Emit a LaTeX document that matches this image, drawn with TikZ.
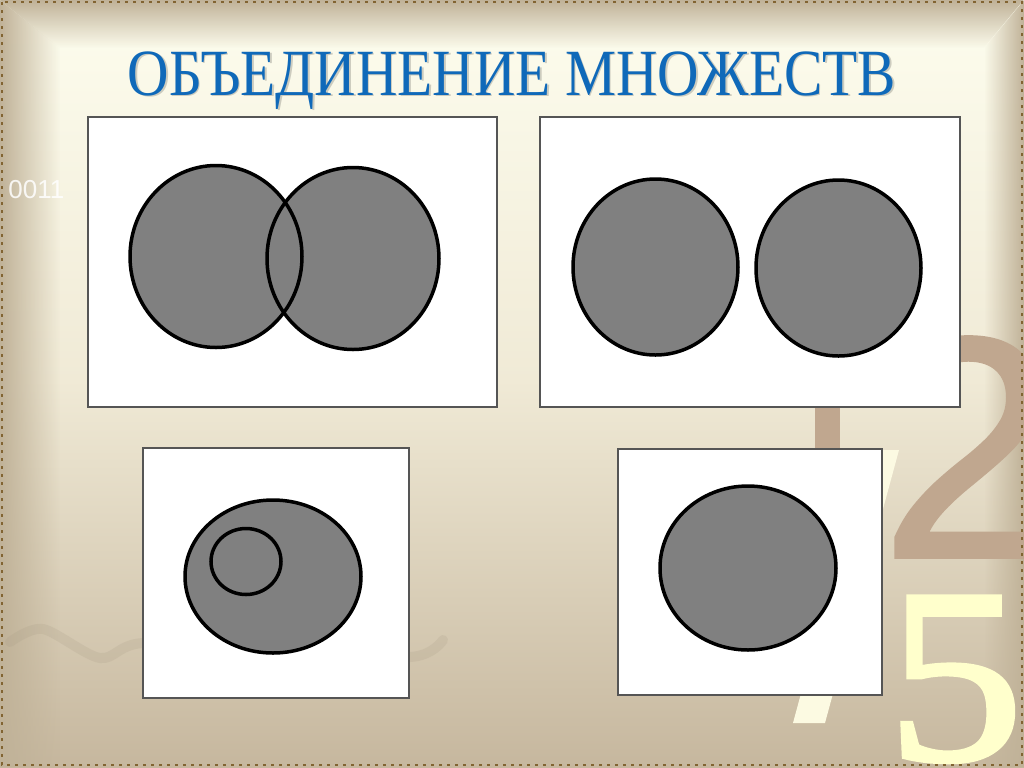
\documentclass[tikz,border=0pt]{standalone}
\usepackage{fontspec}
\usepackage{graphicx}
\setmainfont{Liberation Serif}
\newfontfamily\titlefont[FakeStretch=0.87]{Liberation Serif}
\newfontfamily\numfont{Liberation Sans}
\newfontfamily\numboldfont[FakeBold=1.2]{Liberation Sans}
\newfontfamily\fivefont[FakeBold=1.5]{Liberation Serif}
\usetikzlibrary{fadings,positioning}
\definecolor{cream}{RGB}{253,253,238}
\definecolor{midbeige}{RGB}{240,234,214}
\definecolor{lowbeige}{RGB}{198,183,158}
\definecolor{taupe}{RGB}{192,178,152}
\definecolor{numtaupe}{RGB}{192,167,143}
\definecolor{numyellow}{RGB}{255,255,204}
\definecolor{slashcream}{RGB}{252,250,226}
\definecolor{dotbrown}{RGB}{130,100,50}
\definecolor{titleblue}{RGB}{15,105,185}
\definecolor{setgray}{RGB}{128,128,128}
\definecolor{boxedge}{RGB}{85,85,85}
\tikzfading[name=fadeleft, left color=transparent!0, right color=transparent!100]
\tikzfading[name=fadetop, top color=transparent!0, bottom color=transparent!100]
\tikzfading[name=faderight, left color=transparent!100, right color=transparent!0]
\tikzset{
  setbox/.style={draw=boxedge, fill=white, line width=0.8pt},
  setfill/.style={fill=setgray},
  setline/.style={draw=black, line width=1.75pt},
  bignum/.style={anchor=base west, inner sep=0pt},
}
\begin{document}
\begin{tikzpicture}[x=0.5pt,y=-0.5pt]
\useasboundingbox (0,0) rectangle (1024,767);
\clip (0,0) rectangle (1024,767);
\fill[top color=cream, bottom color=midbeige] (0,0) rectangle (1024,381);
\fill[top color=midbeige, bottom color=lowbeige] (0,380) rectangle (1024,767);
\fill[taupe, path fading=fadetop] (0,0) -- (1024,0) -- (984,48) -- (60,48) -- cycle;
\fill[taupe, path fading=fadeleft] (0,0) -- (60,48) -- (60,767) -- (0,767) -- cycle;
\fill[taupe, path fading=faderight] (984,48) -- (1024,0) -- (1024,767) -- (984,767) -- cycle;
\draw[taupe!85!black, opacity=0.18, line width=5pt, line cap=round]
  plot[smooth] coordinates {(10,642) (43,629) (100,658) (143,643) (276,648) (410,657) (443,640)};
\fill[numtaupe] (815,370) rectangle (840,470);
\fill[slashcream] (793,723) -- (825,723) -- (899,450) -- (867,450) -- cycle;
\node[bignum, text=numtaupe, font=\numboldfont\fontsize{157.5}{160}\selectfont] (two) at (880,557) {2};
\node[bignum, text=numyellow, font=\fivefont\fontsize{125}{128}\selectfont] (five) at (886,760) {\scalebox{1.1}[1]{5}};
\node[bignum, text=white, opacity=0.85, font=\numfont\fontsize{13}{13}\selectfont] (code) at (8,198) {0011};
\draw[dotbrown, line width=1pt, dash pattern=on 1.5pt off 2.5pt] (2,2) rectangle (1022,765);
\coordinate (P1) at (88,117); \coordinate (Q1) at (497,407);
\coordinate (P2) at (540,117); \coordinate (Q2) at (960,407);
\coordinate (P3) at (143,448); \coordinate (Q3) at (409,698);
\coordinate (P4) at (618,449); \coordinate (Q4) at (882,695);
\draw[setbox] (P1) rectangle (Q1);
\draw[setbox] (P2) rectangle (Q2);
\draw[setbox] (P3) rectangle (Q3);
\draw[setbox] (P4) rectangle (Q4);
\coordinate (A1) at (216,256.5); \coordinate (B1) at (353,258.5);
\fill[setfill] (A1) ellipse [x radius=86, y radius=91];
\fill[setfill] (B1) ellipse [x radius=86, y radius=91];
\draw[setline] (A1) ellipse [x radius=86, y radius=91];
\draw[setline] (B1) ellipse [x radius=86, y radius=91];
\coordinate (A2) at (655.5,267); \coordinate (B2) at (838.5,268);
\draw[setfill, setline] (A2) ellipse [x radius=82.5, y radius=88];
\draw[setfill, setline] (B2) ellipse [x radius=82.5, y radius=88];
\coordinate (A3) at (273,576.5); \coordinate (B3) at (246,561.5);
\draw[setfill, setline] (A3) ellipse [x radius=88, y radius=76.5];
\draw[setline] (B3) ellipse [x radius=35, y radius=33];
\coordinate (A4) at (748,568);
\draw[setfill, setline] (A4) ellipse [x radius=88, y radius=82];
\node[anchor=base, text=black, opacity=0.18, font=\titlefont\fontsize{33}{36}\selectfont] (titleshadow) at (513.5,96.5) {ОБЪЕДИНЕНИЕ МНОЖЕСТВ};
\node[anchor=base, text=titleblue, font=\titlefont\fontsize{33}{36}\selectfont] (title) at (512,95) {ОБЪЕДИНЕНИЕ МНОЖЕСТВ};
\end{tikzpicture}
\end{document}
